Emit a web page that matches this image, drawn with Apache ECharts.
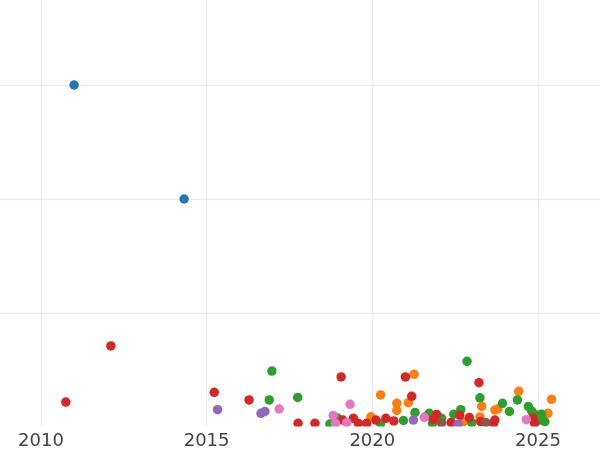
<!DOCTYPE html>
<html>
<head>
<meta charset="utf-8">
<script src="https://cdn.jsdelivr.net/npm/echarts@6/dist/echarts.min.js"></script>
<style>html,body{margin:0;padding:0;background:#fff}#c{width:600px;height:450px}</style>
</head>
<body>
<div id="c"></div>
<script>
// [year, value]
const blueData = [[2011.00,300.0],[2014.32,200.0]];
const orangeData = [[2020.25,28.1],[2020.74,20.8],[2020.74,14.5],[2021.09,21.3],[2021.26,46.2],[2019.96,9.0],[2022.75,4.6],[2023.30,18.0],[2023.25,8.8],[2023.70,14.9],[2023.79,15.8],[2024.42,31.3],[2025.30,12.0],[2025.41,24.3]];
const greenData = [[2016.97,49.1],[2016.89,23.7],[2017.75,25.9],[2018.72,2.6],[2018.95,7.9],[2020.25,3.1],[2020.94,5.7],[2021.29,12.7],[2021.64,9.6],[2021.72,12.0],[2021.82,3.2],[2022.09,7.6],[2022.46,11.2],[2022.67,15.2],[2022.86,57.6],[2023.00,3.8],[2023.25,25.6],[2023.93,20.8],[2024.14,13.6],[2024.38,23.7],[2024.71,18.0],[2024.81,14.0],[2024.96,10.5],[2025.11,11.1],[2025.21,4.6],[2025.08,6.1]];
const redData = [[2010.75,21.9],[2012.11,71.1],[2015.23,30.4],[2016.28,23.7],[2017.76,3.2],[2018.27,3.2],[2019.06,43.9],[2019.11,6.1],[2019.43,7.6],[2019.58,3.1],[2019.83,3.2],[2020.11,6.1],[2020.41,7.6],[2020.65,5.3],[2021.00,43.9],[2021.19,26.9],[2021.84,6.6],[2021.94,11.0],[2022.38,3.9],[2022.64,10.4],[2022.93,8.3],[2023.22,38.9],[2023.27,4.8],[2023.66,3.2],[2023.70,6.1],[2024.85,7.9],[2024.90,3.2]];
const purpleData = [[2015.33,15.2],[2016.64,12.0],[2016.76,13.6],[2021.24,6.1],[2022.59,2.4]];
const brownData = [[2022.09,3.5],[2023.43,3.8]];
const pinkData = [[2017.19,15.8],[2018.82,10.1],[2018.89,3.3],[2019.23,3.8],[2019.33,19.9],[2021.57,8.5],[2024.65,6.4]];

const seriesList = [
  {name:'blue', color:'#1f77b4', data:blueData},
  {name:'orange', color:'#ff7f0e', data:orangeData},
  {name:'green', color:'#2ca02c', data:greenData},
  {name:'red', color:'#d62728', data:redData},
  {name:'purple', color:'#9467bd', data:purpleData},
  {name:'brown', color:'#8c564b', data:brownData},
  {name:'pink', color:'#e377c2', data:pinkData}
];

const chart = echarts.init(document.getElementById('c'), null, {renderer:'canvas'});
chart.setOption({
  animation:false,
  backgroundColor:'#ffffff',
  grid:{left:-124.7, right:-103.6, top:-29, bottom:23, containLabel:false, outerBoundsMode:'none'},
  xAxis:{
    type:'value', min:2005, max:2030, interval:5,
    axisLine:{show:false}, axisTick:{show:false},
    axisLabel:{color:'#444', fontSize:18, fontFamily:'DejaVu Sans', margin:5, formatter: v => String(v)},
    splitLine:{show:true, lineStyle:{color:'#ebebeb', width:1.3}}
  },
  yAxis:{
    type:'value', min:0, max:400, interval:100,
    axisLine:{show:false}, axisTick:{show:false},
    axisLabel:{show:false},
    splitLine:{show:true, lineStyle:{color:'#ebebeb', width:1.3}}
  },
  graphic:[{
    type:'rect', z:100, silent:true,
    shape:{x:0, y:426.6, width:600, height:5},
    style:{fill:'#ffffff'}
  }],
  series: seriesList.map(s => ({
    type:'scatter', name:s.name, data:s.data, symbolSize:9.5,
    itemStyle:{color:s.color, opacity:1}
  }))
});
</script>
</body>
</html>
